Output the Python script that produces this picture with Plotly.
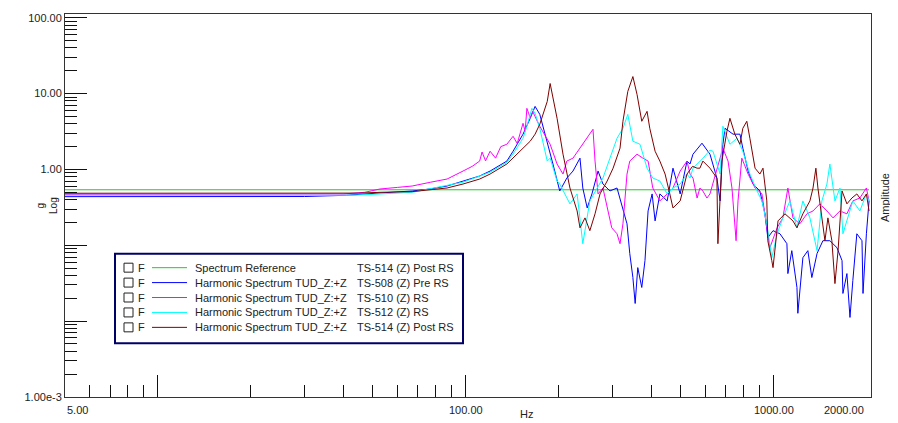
import math
import plotly.graph_objects as go

# ---------------- data (Hz, g) ----------------
FREQ_REF = [5, 2040]
AMP_REF = [0.54, 0.54]

FREQ_508 = [5, 10, 20, 30, 41, 49.5, 52.7, 67, 76.5, 87,
            98, 111, 120, 136, 142.5, 153.5, 162, 168, 174, 184,
            192, 202, 213, 223, 235, 240, 248, 257, 269, 279,
            294, 310, 324, 334, 341, 349, 355, 362, 373, 382,
            391, 403, 412, 427, 451, 471, 497, 523, 535, 547,
            585, 621, 654, 670, 684, 695, 738, 777, 794, 826,
            857, 902, 937, 957, 995, 1048, 1104, 1112, 1145, 1190,
            1198, 1244, 1291, 1330, 1383, 1445, 1522, 1605, 1667, 1678,
            1729, 1769, 1807, 1862, 1935, 1950, 2000, 2040]
AMP_508 = [0.438, 0.44, 0.438, 0.44, 0.457, 0.486, 0.49, 0.52, 0.553, 0.605,
           0.705, 0.82, 0.953, 1.29, 1.74, 2.92, 4.73, 6.79, 5.33, 2.15,
           1.18, 0.521, 0.771, 0.953, 1.41, 0.57, 0.311, 0.476, 0.953, 0.643,
           0.521, 0.570, 0.284, 0.192, 0.078, 0.0376, 0.0171, 0.0508, 0.0278, 0.0628,
           0.284, 0.476, 0.210, 0.476, 0.385, 1.04, 0.476, 1.29, 1.18, 1.59,
           2.22, 1.59, 0.771, 0.385, 2.15, 3.49, 2.92, 2.92, 1.91, 0.953,
           0.643, 0.521, 0.260, 0.126, 0.156, 0.142, 0.105, 0.0424, 0.085, 0.0278,
           0.0127, 0.0687, 0.085, 0.0376, 0.078, 0.115, 0.115, 0.093, 0.0628, 0.0232,
           0.0424, 0.0112, 0.0343, 0.142, 0.115, 0.0232, 0.142, 0.385]

FREQ_510 = [5, 10, 20, 30, 40, 47, 52.7, 60, 67, 77,
            87, 98, 105, 111, 113, 116, 120, 125, 130, 136,
            142.5, 147, 153.5, 156, 158, 162, 165, 170, 174, 188,
            198, 207, 213, 223, 235, 248, 259, 263, 269, 279,
            290, 298, 310, 317, 324, 334, 341, 360, 376, 391,
            405, 427, 451, 471, 497, 523, 535, 547, 564, 576,
            589, 607, 621, 654, 684, 711, 732, 755, 766, 788,
            826, 870, 916, 950, 972, 1026, 1071, 1112, 1155, 1216,
            1282, 1342, 1412, 1489, 1558, 1641, 1729, 1807, 1905, 2000,
            2040]
AMP_510 = [0.471, 0.472, 0.47, 0.471, 0.475, 0.50, 0.553, 0.58, 0.605, 0.68,
           0.748, 0.953, 1.1, 1.29, 1.7, 1.3, 1.74, 1.41, 2.0, 2.15,
           2.74, 2.2, 4.06, 3.2, 6.4, 4.8, 5.84, 4.5, 3.71, 2.15,
           1.18, 0.87, 1.29, 1.41, 1.91, 2.58, 3.39, 1.29, 0.476, 0.570,
           0.284, 0.170, 0.142, 0.105, 0.192, 0.870, 1.29, 1.59, 1.41, 1.29,
           0.570, 0.385, 0.476, 0.570, 0.953, 1.29, 0.87, 0.77, 0.42, 0.57,
           0.52, 0.42, 0.476, 1.04, 1.91, 1.29, 0.570, 0.115, 0.385, 1.41,
           0.870, 0.570, 0.476, 0.170, 0.093, 0.170, 0.230, 0.570, 0.230, 0.192,
           0.260, 0.284, 0.352, 0.284, 0.230, 0.284, 0.260, 0.385, 0.421, 0.570,
           0.385]

FREQ_512 = [5, 10, 20, 30, 42.5, 50, 67, 98, 120, 136,
            142.5, 153.5, 158, 164, 168, 174, 184, 188, 198, 202,
            218, 230, 240, 253, 267, 279, 294, 310, 324, 336,
            349, 368, 388, 405, 427, 451, 471, 497, 523, 535,
            547, 589, 621, 635, 670, 684, 721, 760, 794, 837,
            883, 916, 950, 986, 1026, 1071, 1129, 1190, 1244, 1311,
            1383, 1434, 1489, 1522, 1581, 1641, 1678, 1741, 1807, 1905,
            2000, 2040]
AMP_512 = [0.457, 0.455, 0.457, 0.458, 0.457, 0.47, 0.50, 0.68, 0.92, 1.24,
           1.6, 2.58, 3.71, 6.4, 5.5, 3.49, 1.29, 1.41, 0.705, 0.643,
           0.352, 0.476, 0.105, 0.385, 0.570, 0.771, 1.41, 2.58, 3.49, 5.33,
           2.36, 2.15, 1.04, 0.771, 0.705, 0.476, 0.570, 0.643, 0.870, 0.771,
           1.04, 1.4, 1.8, 1.74, 0.870, 3.71, 2.15, 2.58, 1.74, 0.870,
           0.521, 0.385, 0.192, 0.0687, 0.142, 0.230, 0.385, 0.170, 0.385, 0.230,
           0.085, 0.385, 0.643, 1.18, 0.385, 0.570, 0.142, 0.230, 0.385, 0.284,
           0.476, 0.385]

FREQ_514 = [5, 10, 20, 30, 45, 52.7, 67, 87, 98, 111,
            120, 136, 142.5, 153.5, 162, 168, 174, 184, 188, 198,
            207, 218, 230, 235, 244, 253, 263, 273, 288, 301,
            317, 324, 336, 349, 360, 373, 388, 396, 412, 427,
            444, 460, 471, 497, 523, 545, 564, 576, 589, 621,
            654, 659, 679, 705, 721, 748, 777, 794, 818, 837,
            870, 902, 923, 950, 957, 986, 995, 1033, 1088, 1155,
            1190, 1244, 1311, 1342, 1371, 1392, 1434, 1467, 1500, 1545,
            1581, 1618, 1667, 1729, 1795, 1862, 1935, 2000, 2040]
AMP_514 = [0.486, 0.487, 0.485, 0.486, 0.488, 0.50, 0.51, 0.57, 0.643, 0.748,
           0.870, 1.18, 1.41, 1.91, 2.36, 2.92, 3.95, 7.9, 13.6, 4.73,
           1.59, 0.570, 0.284, 0.170, 0.230, 0.156, 0.260, 0.476, 0.705, 1.04,
           1.91, 4.32, 10.7, 16.8, 9.77, 4.32, 5.84, 3.49, 1.74, 1.29,
           0.870, 0.476, 0.311, 0.385, 0.870, 1.1, 1.04, 1.04, 1.29, 1.04,
           0.771, 0.105, 1.29, 3.19, 4.73, 2.92, 2.15, 3.49, 4.32, 2.58,
           1.04, 0.870, 1.04, 0.385, 0.115, 0.0628, 0.0508, 0.210, 0.260, 0.210,
           0.170, 0.260, 0.385, 0.570, 1.04, 0.570, 0.230, 0.115, 0.230, 0.115,
           0.0313, 0.085, 0.521, 0.352, 0.421, 0.476, 0.385, 0.476, 0.284]

SERIES_NAMES = ["Spectrum Reference",
                "Harmonic Spectrum TUD_Z:+Z",
                "Harmonic Spectrum TUD_Z:+Z",
                "Harmonic Spectrum TUD_Z:+Z",
                "Harmonic Spectrum TUD_Z:+Z"]
SERIES_TAGS = ["TS-514 (Z) Post RS", "TS-508 (Z) Pre RS", "TS-510 (Z) RS",
               "TS-512 (Z) RS", "TS-514 (Z) Post RS"]
SERIES_FREQ = [FREQ_REF, FREQ_508, FREQ_510, FREQ_512, FREQ_514]
SERIES_AMP = [AMP_REF, AMP_508, AMP_510, AMP_512, AMP_514]
SERIES_COLORS = ["#22cc22", "#0000ff", "#ff00ff", "#00ffff", "#800000"]

X_LABEL_VALS = [5, 100, 1000, 2000]
X_LABEL_TEXT = ["5.00", "100.00", "1000.00", "2000.00"]
X_MAJOR = [10, 100, 1000]
X_MINOR = [6, 7, 8, 9, 20, 30, 40, 50, 60, 70, 80, 90,
           200, 300, 400, 500, 600, 700, 800, 900]
Y_MAJOR = [0.001, 0.01, 0.1, 1, 10, 100]
Y_MAJOR_TEXT = ["1.00e-3", "", "", "1.00", "10.00", "100.00"]
Y_MINOR = [m * d for d in (0.001, 0.01, 0.1, 1, 10) for m in range(2, 10)]
Y2_MAJOR = [i / 10 for i in range(11)]
Y2_MAJOR_TEXT = ["0.00"] + [""] * 9 + ["1.00"]
Y2_MINOR = [0.05 + i / 10 for i in range(10)]

# ---------------- figure ----------------
OFF = 8                      # page body margin of the html page
W, H = 898 - OFF, 423 - OFF
PL, PR, PT, PB = 65, 871, 12, 397   # plot box in page pixels
L, R, T, B = PL - OFF, PR - OFF, PT - OFF, PB - OFF
FONT = "Liberation Sans, Arial, sans-serif"
AX = "#333333"
TXT = "#222222"

def px(xp):
    return (xp - PL) / (PR - PL)

def py(yp):
    return (PB - yp) / (PB - PT)

fig = go.Figure()
for f, a, c in zip(SERIES_FREQ, SERIES_AMP, SERIES_COLORS):
    fig.add_trace(go.Scatter(x=f, y=a, mode="lines", line=dict(color=c, width=1),
                             showlegend=False, hoverinfo="skip"))

tick_common = dict(ticks="inside", tickcolor="#111", tickwidth=1)
minor_common = dict(tickmode="array", ticks="inside", ticklen=12,
                    tickcolor="#111", tickwidth=1, showgrid=False)

fig.update_layout(
    width=W, height=H,
    margin=dict(l=L, r=W - R, t=T, b=H - B, pad=0),
    paper_bgcolor="white", plot_bgcolor="white",
    font=dict(family=FONT, size=11, color=TXT),
    showlegend=False,
    xaxis=dict(type="log", range=[math.log10(5), math.log10(5) + 2.617],
               showgrid=False, zeroline=False, showline=True, linecolor=AX,
               linewidth=1, mirror=True,
               tickmode="array", tickvals=X_MAJOR, showticklabels=False,
               ticklen=22, **tick_common,
               minor=dict(tickvals=X_MINOR, **minor_common)),
    yaxis=dict(type="log", range=[-3, 2.05],
               showgrid=False, zeroline=False, showline=True, linecolor=AX,
               linewidth=1, mirror=True,
               tickmode="array", tickvals=Y_MAJOR, ticktext=Y_MAJOR_TEXT,
               ticklen=22, **tick_common, tickfont=dict(size=11, color=TXT),
               minor=dict(tickvals=Y_MINOR, **minor_common)),
    yaxis2=dict(overlaying="y", side="right", anchor="x", range=[0, 1],
                showgrid=False, zeroline=False, showline=True, linecolor=AX,
                tickmode="array", tickvals=Y2_MAJOR, ticktext=Y2_MAJOR_TEXT,
                ticklen=24, **tick_common, tickfont=dict(size=11, color=TXT),
                minor=dict(tickvals=Y2_MINOR, **minor_common)),
)

ann = []
# x tick labels
anchors = ["left", "center", "center", "right"]
for v, t, anc in zip(X_LABEL_VALS, X_LABEL_TEXT, anchors):
    ann.append(dict(x=math.log10(v), xref="x", y=0, yref="paper", yanchor="top",
                    yshift=-5, xanchor=anc, text=t, showarrow=False,
                    font=dict(size=11, color=TXT)))
# axis titles
ann.append(dict(x=px(526), y=py(414), xref="paper", yref="paper", text="Hz",
                xanchor="center", yanchor="middle",
                showarrow=False, font=dict(size=11, color=TXT)))
ann.append(dict(x=px(47), y=py(205), xref="paper", yref="paper", text="g<br>Log",
                xanchor="center", yanchor="middle",
                textangle=-90, showarrow=False, font=dict(size=10, color=TXT)))
ann.append(dict(x=px(885), y=py(197), xref="paper", yref="paper", text="Amplitude",
                xanchor="center", yanchor="middle",
                textangle=-90, showarrow=False, font=dict(size=11, color=TXT)))

shapes = []
# legend box
shapes.append(dict(type="rect", xref="paper", yref="paper",
                   x0=px(115), x1=px(463), y0=py(343), y1=py(253),
                   line=dict(color="#000066", width=2), fillcolor="white", layer="above"))
row_y = [267, 282, 297, 312, 327]
for i, (nm, tg, c) in enumerate(zip(SERIES_NAMES, SERIES_TAGS, SERIES_COLORS)):
    yy = row_y[i]
    shapes.append(dict(type="rect", xref="paper", yref="paper",
                       x0=px(124), x1=px(133), y0=py(yy + 4.5), y1=py(yy - 4.5),
                       line=dict(color="#222", width=1), fillcolor="white", layer="above"))
    shapes.append(dict(type="line", xref="paper", yref="paper",
                       x0=px(152), x1=px(187), y0=py(yy), y1=py(yy),
                       line=dict(color=c, width=1), layer="above"))
    for xx, txt in ((136, "F"), (193, nm), (355, tg)):
        ann.append(dict(x=px(xx), y=py(yy), xref="paper", yref="paper", text=txt,
                        xanchor="left", yanchor="middle", showarrow=False,
                        font=dict(size=11, color=TXT)))

fig.update_layout(annotations=ann, shapes=shapes)
fig.write_html("out.html")
